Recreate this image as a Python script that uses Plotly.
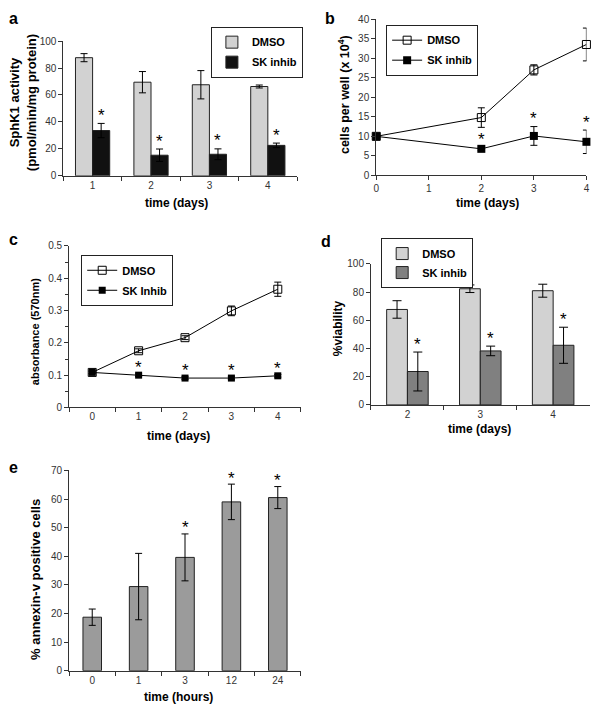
import plotly.graph_objects as go

W, H = 601, 718
FONT = "Liberation Sans, Arial, sans-serif"

# ---------------- data ----------------
# Panel a: SphK1 activity
a_days = ["1", "2", "3", "4"]
a_dmso = [87.7, 69.5, 67.6, 66.3]
a_dmso_err = [3.0, 7.9, 10.5, 1.1]
a_sk = [33.6, 15.3, 16.0, 22.6]
a_sk_err = [5.3, 4.6, 4.0, 1.7]
a_star = [True, True, True, True]

# Panel b: cells per well
b_days = [0, 2, 3, 4]
b_dmso = [10.0, 14.8, 27.0, 33.5]
b_dmso_err = [0.0, 2.5, 1.3, 4.2]
b_sk = [10.0, 6.8, 10.1, 8.6]
b_sk_err = [0.0, 0.4, 2.4, 3.0]
b_star = [False, True, True, True]

# Panel c: absorbance
c_days = ["0", "1", "2", "3", "4"]
c_dmso = [0.1085, 0.1755, 0.216, 0.299, 0.366]
c_dmso_err = [0.004, 0.006, 0.006, 0.015, 0.022]
c_sk = [0.1085, 0.100, 0.091, 0.091, 0.098]
c_sk_err = [0.004, 0.004, 0.004, 0.004, 0.004]
c_star = [False, True, True, True, True]

# Panel d: viability
d_days = ["2", "3", "4"]
d_dmso = [67.7, 82.4, 81.0]
d_dmso_err = [6.2, 2.7, 4.6]
d_sk = [23.7, 38.3, 42.3]
d_sk_err = [13.8, 3.4, 12.8]
d_star = [True, True, True]

# Panel e: annexin-v
e_hours = ["0", "1", "3", "12", "24"]
e_val = [18.7, 29.4, 39.6, 59.0, 60.5]
e_err = [2.85, 11.6, 8.2, 6.2, 3.85]
e_star = [False, False, True, True, True]

# ---------------- figure ----------------
fig = go.Figure()

def err(arr, w=3.5):
    return dict(type="data", array=arr, visible=True, color="black", thickness=1, width=w)

def px_x(a, b):
    return [a / W, b / W]

def px_y(top, bottom):
    return [1 - bottom / H, 1 - top / H]

LIGHT = "#d2d2d2"
DARK = "#111111"
MID = "#808080"
EGRAY = "#9b9b9b"
OUT = "#222222"
BWA = 0.293
BWD = 0.285

# a
fig.add_trace(go.Bar(x=a_days, y=a_dmso, error_y=err(a_dmso_err), name="DMSO",
                     marker=dict(color=LIGHT, line=dict(color=OUT, width=1)),
                     width=BWA, offset=-BWA, xaxis="x", yaxis="y",
                     legend="legend", legendgroup="a1"))
fig.add_trace(go.Bar(x=a_days, y=a_sk, error_y=err(a_sk_err), name="SK inhib",
                     marker=dict(color=DARK, line=dict(color=OUT, width=1)),
                     width=BWA, offset=0, xaxis="x", yaxis="y",
                     legend="legend", legendgroup="a2"))

# b
fig.add_trace(go.Scatter(x=b_days, y=b_dmso, error_y=err(b_dmso_err), name="DMSO",
                         mode="lines+markers", line=dict(color="black", width=1),
                         marker=dict(symbol="square-open", size=8, color="black", line=dict(width=1)),
                         cliponaxis=False, xaxis="x2", yaxis="y2",
                         legend="legend2", legendgroup="b1"))
fig.add_trace(go.Scatter(x=b_days, y=b_sk, error_y=err(b_sk_err), name="SK inhib",
                         mode="lines+markers", line=dict(color="black", width=1),
                         marker=dict(symbol="square", size=8, color="black"),
                         cliponaxis=False, xaxis="x2", yaxis="y2",
                         legend="legend2", legendgroup="b2"))

# c
fig.add_trace(go.Scatter(x=c_days, y=c_dmso, error_y=err(c_dmso_err), name="DMSO",
                         mode="lines+markers", line=dict(color="black", width=1),
                         marker=dict(symbol="square-open", size=8, color="black", line=dict(width=1)),
                         cliponaxis=False, xaxis="x3", yaxis="y3",
                         legend="legend3", legendgroup="c1"))
fig.add_trace(go.Scatter(x=c_days, y=c_sk, error_y=err(c_sk_err), name="SK Inhib",
                         mode="lines+markers", line=dict(color="black", width=1),
                         marker=dict(symbol="square", size=7, color="black"),
                         cliponaxis=False, xaxis="x3", yaxis="y3",
                         legend="legend3", legendgroup="c2"))

# d
fig.add_trace(go.Bar(x=d_days, y=d_dmso, error_y=err(d_dmso_err, 4.5), name="DMSO",
                     marker=dict(color=LIGHT, line=dict(color=OUT, width=1)),
                     width=BWD, offset=-BWD, xaxis="x4", yaxis="y4",
                     legend="legend4", legendgroup="d1"))
fig.add_trace(go.Bar(x=d_days, y=d_sk, error_y=err(d_sk_err, 4.5), name="SK inhib",
                     marker=dict(color=MID, line=dict(color=OUT, width=1)),
                     width=BWD, offset=0, xaxis="x4", yaxis="y4",
                     legend="legend4", legendgroup="d2"))

# e
fig.add_trace(go.Bar(x=e_hours, y=e_val, error_y=err(e_err), name="annexin-v",
                     marker=dict(color=EGRAY, line=dict(color=OUT, width=1)),
                     width=0.40, offset=-0.20, xaxis="x5", yaxis="y5", showlegend=False))

# ---------------- axes ----------------
tickfont = dict(family=FONT, size=10, color="#333333")
base = dict(showline=True, linecolor="#333333", linewidth=1, ticks="outside",
            ticklen=4, tickcolor="#333333", tickwidth=1, showgrid=False,
            zeroline=False, tickfont=tickfont, fixedrange=True)

def xcat(domain, anchor, n):
    return dict(base, domain=domain, anchor=anchor, type="category",
                range=[-0.5, n - 0.5], tickson="boundaries")

fig.update_layout(
    xaxis=xcat(px_x(61, 297), "y", len(a_days)),
    yaxis=dict(base, domain=px_y(35.7, 172.7), anchor="x", range=[0, 100], dtick=20),
    xaxis2=dict(base, domain=px_x(377, 589.3), anchor="y2", range=[0, 4], dtick=1),
    yaxis2=dict(base, domain=px_y(13.3, 172.3), anchor="x2", range=[0, 40], dtick=5),
    xaxis3=xcat(px_x(66.7, 301), "y3", len(c_days)),
    yaxis3=dict(base, domain=px_y(244, 408.3), anchor="x3", range=[0, 0.5], dtick=0.1,
                minor=dict(dtick=0.05, ticks="outside", ticklen=3, tickcolor="#333333")),
    xaxis4=xcat(px_x(371.7, 592.5), "y4", len(d_days)),
    yaxis4=dict(base, domain=px_y(262.3, 405.7), anchor="x4", range=[0, 100], dtick=20),
    xaxis5=xcat(px_x(66.7, 301), "y5", len(e_hours)),
    yaxis5=dict(base, domain=px_y(472.3, 676), anchor="x5", range=[0, 70], dtick=10),
)

# ---------------- legends ----------------
def leg(xpx, ypx, gap=1):
    return dict(x=xpx / W, y=1 - ypx / H, xanchor="left", yanchor="top",
                bgcolor="white", bordercolor="#222222", borderwidth=1,
                font=dict(family=FONT, size=11, color="black", weight="bold"),
                traceorder="grouped", tracegroupgap=gap, itemclick=False)

fig.update_layout(legend=leg(210, 21), legend2=leg(387, 19),
                  legend3=leg(79, 253), legend4=leg(382, 236, gap=0))

# ---------------- annotations ----------------
ann = []
bold = dict(family=FONT, size=12, color="black", weight="bold")

def title(text, xpx, ypx, angle=0, size=12):
    ann.append(dict(text=text, x=xpx / W, y=1 - ypx / H, xref="paper", yref="paper",
                    showarrow=False, textangle=angle, xanchor="center", yanchor="middle",
                    font=dict(bold, size=size)))

# panel letters
for letter, xp, yp in [("a", 11, 13), ("b", 330, 13), ("c", 11, 237), ("d", 326, 240), ("e", 11, 469)]:
    title(letter, xp, yp, size=16)

# axis titles
title("time (days)", 175, 200)
title("SphK1 activity<br>(pmol/min/mg protein)", 21, 98, -90, 13)
title("time (days)", 489, 200)
title("cells per well (x 10<sup>4</sup>)", 345, 90, -90, 12.5)
title("time (days)", 177, 437)
title("absorbance (570nm)", 33, 331, -90, 11)
title("time (days)", 481, 430)
title("%viability", 338, 328, -90, 12)
title("time (hours)", 177, 703)
title("% annexin-v positive cells", 33, 583, -90, 13)

# significance stars above treated values
def stars(xs, ys, es, flags, xa, ya, dx=0.0, shift=8):
    for i, f in enumerate(flags):
        if f:
            ann.append(dict(text="*", x=xs[i] + dx, y=ys[i] + es[i], xref=xa, yref=ya,
                            showarrow=False, xanchor="center", yanchor="middle",
                            yshift=shift,
                            font=dict(family=FONT, size=17, color="black")))

idx = lambda cats: list(range(len(cats)))
stars(idx(a_days), a_sk, a_sk_err, a_star, "x", "y", dx=BWA / 2)
stars(b_days, b_sk, b_sk_err, b_star, "x2", "y2")
stars(idx(c_days), c_sk, c_sk_err, c_star, "x3", "y3", shift=6)
stars(idx(d_days), d_sk, d_sk_err, d_star, "x4", "y4", dx=BWD / 2)
stars(idx(e_hours), e_val, e_err, e_star, "x5", "y5", shift=6)

fig.update_layout(annotations=ann, width=W, height=H,
                  margin=dict(l=0, r=0, t=0, b=0),
                  paper_bgcolor="white", plot_bgcolor="white",
                  font=dict(family=FONT), showlegend=True)

fig.write_html("out.html", config={"displayModeBar": False},
               post_script="document.body.style.margin='0';")
